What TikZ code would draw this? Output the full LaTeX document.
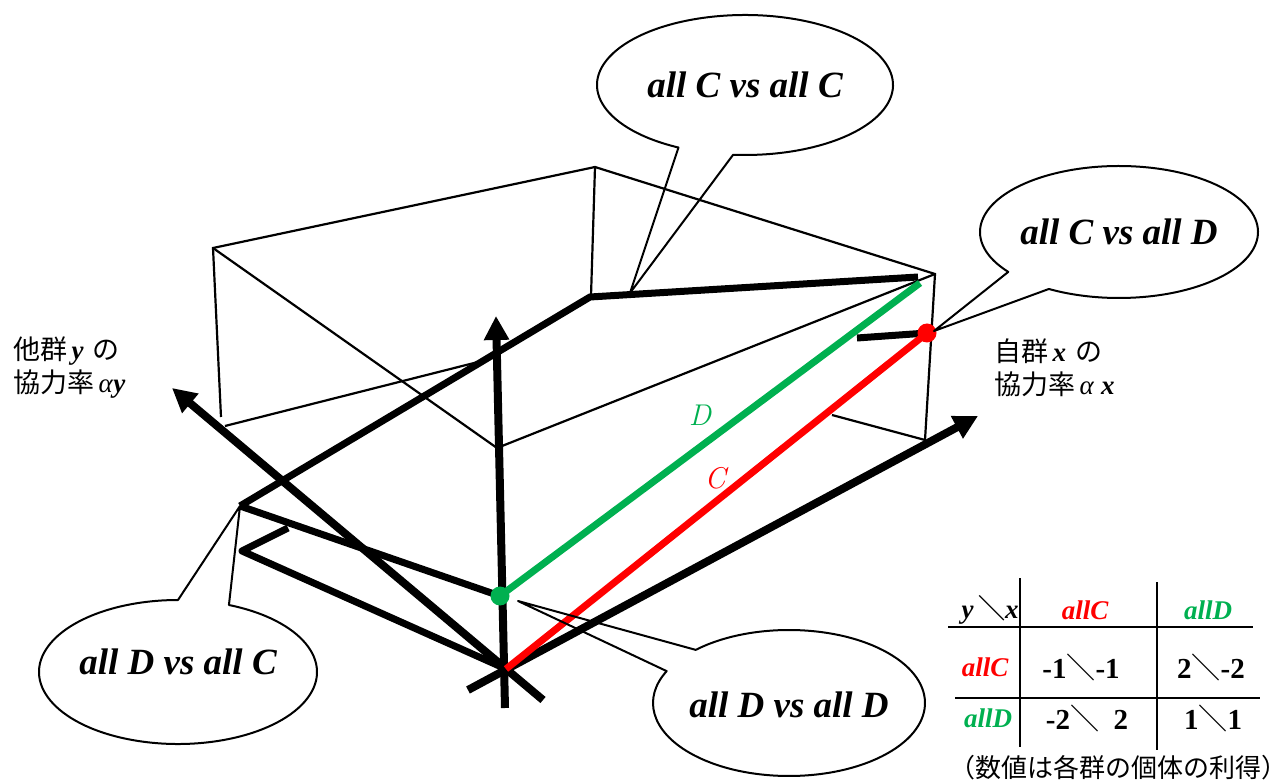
\documentclass[tikz,border=0pt]{standalone}
\usepackage{fontspec}
\setmainfont{Liberation Serif}
\newfontfamily\jfont{Noto Sans CJK JP}
\newfontfamily\lmfont{Latin Modern Roman}
\usetikzlibrary{arrows.meta}
\definecolor{cgreen}{HTML}{00B050}
\definecolor{cred}{HTML}{FF0000}

\begin{document}
\begin{tikzpicture}[x=1pt,y=-1pt,
  frame/.style={line width=2.2pt},
  bar/.style={line width=7pt},
  axis/.style={line width=8pt,-{Triangle[length=24pt,width=24pt]}},
  balloon/.style={draw,line width=2pt,line join=round},
  talk/.style={font=\fontsize{37}{40}\selectfont\bfseries\itshape,inner sep=0pt},
  axlabel/.style={font=\fontsize{27}{33}\selectfont,align=left,anchor=west,inner sep=0pt},
  rule/.style={line width=2.2pt},
  cell/.style={font=\fontsize{29}{30}\selectfont\bfseries,inner sep=0pt},
  head/.style={font=\fontsize{27}{30}\selectfont\bfseries\itshape,inner sep=0pt}]
  \useasboundingbox (0,0) rectangle (1286,783);

  \coordinate (o) at (506,669);
  \coordinate (vb) at (505,708); \coordinate (vt) at (496,316);
  \coordinate (yb) at (543,700); \coordinate (yt) at (172,388);
  \coordinate (xb) at (468,690); \coordinate (xt) at (978,416);
  \coordinate (p) at (240,506); \coordinate (q) at (590,297); \coordinate (r) at (918,277);
  \coordinate (s1) at (288,528); \coordinate (s2) at (242,551);
  \coordinate (g) at (500,596); \coordinate (gt) at (920,283);
  \coordinate (rd) at (927,333); \coordinate (t1) at (857,338);
  \coordinate (a) at (213,248); \coordinate (b) at (595,167); \coordinate (e) at (935,274);
  \coordinate (ab) at (221,417); \coordinate (bb) at (591,296); \coordinate (m) at (497,448);
  \coordinate (eb) at (925,440); \coordinate (n) at (832,415);
  \coordinate (la) at (225,426); \coordinate (lb) at (478,362);

  \draw[frame] (ab) -- (a) -- (b) -- (e) -- (eb) -- (n);
  \draw[frame] (b) -- (bb);
  \draw[frame] (a) -- (m) -- (e);
  \draw[frame] (la) -- (lb);

  \draw[bar,line join=round] (p) -- (q) -- (r);
  \draw[bar] (p) -- (g);
  \draw[bar,line join=round] (s1) -- (s2) -- (o);
  \draw[bar] (t1) -- (rd);
  \draw[axis] (vb) -- (vt);
  \draw[axis] (yb) -- (yt);
  \draw[axis] (xb) -- (xt);
  \draw[bar,cgreen] (g) -- (gt);
  \draw[bar,cred] (o) -- (rd);
  \fill[cgreen] (g) circle (9.5);
  \fill[cred] (rd) circle (9.5);
  \node[font=\fontsize{30}{30}\selectfont\lmfont\itshape,text=cgreen] (dlab) at (700,415) {D};
  \node[font=\fontsize{30}{30}\selectfont\lmfont\itshape,text=cred] (clab) at (715,478) {C};

  \node[axlabel] (ylab) at (13,368) {{\jfont 他群}\,\textbf{\textit{y}}\,\,{\jfont の}\\{\jfont 協力率}\,\textit{α}\textbf{\textit{y}}};
  \node[axlabel] (xlab) at (994,368) {{\jfont 自群}\,\textbf{\textit{x}}\,\,{\jfont の}\\{\jfont 協力率}\,\textit{α}\ \textbf{\textit{x}}};

  \node[talk] (cc) at (745,85) {all C vs all C};
  \coordinate (ccTip) at (630,293);
  \draw[balloon] (cc.center) ++(116.7:148 and 70) arc[start angle=116.7,end angle=454.6,x radius=148,y radius=70] -- (ccTip) -- cycle;
  \node[talk] (cd) at (1119,232) {all C vs all D};
  \coordinate (cdTip) at (934,331);
  \draw[balloon] (cd.center) ++(142.8:139 and 66) arc[start angle=142.8,end angle=480.3,x radius=139,y radius=66] -- (cdTip) -- cycle;
  \node[talk] (dd) at (789,705) {all D vs all D};
  \coordinate (ddTip) at (518,601);
  \draw[balloon] ([yshift=2pt]dd.center) ++(226.7:136 and 73) arc[start angle=226.7,end angle=565.9,x radius=136,y radius=73] -- (ddTip) -- cycle;
  \node[talk] (dc) at (178,662) {all D vs all C};
  \draw[balloon] ([yshift=-10pt]dc.center) ++(291.5:139 and 72) arc[start angle=291.5,end angle=630,x radius=139,y radius=72] -- (p) -- cycle;

  \draw[rule] (1020,578) -- (1020,747);
  \draw[rule] (1157,582) -- (1157,750);
  \draw[rule] (948,627) -- (1253,627);
  \draw[rule] (955,698) -- (1260,698);
  \node[head] (hyx) at (990,610) {y\,{\jfont\bfseries ＼}x};
  \node[head,text=cred] (hc) at (1085,610) {allC};
  \node[head,text=cgreen] (hd) at (1208,610) {allD};
  \node[head,text=cred] (rc) at (985,667) {allC};
  \node[head,text=cgreen] (rdl) at (988,718) {allD};
  \node[cell] (vcc) at (1081,667) {-1{\jfont\mdseries ＼}-1};
  \node[cell] (vcd) at (1211,667) {2{\jfont\mdseries ＼}-2};
  \node[cell] (vdc) at (1087,718) {-2{\jfont\mdseries ＼}\ \ 2};
  \node[cell] (vdd) at (1213,718) {1{\jfont\mdseries ＼}1};
  \node[font=\fontsize{26}{28}\selectfont\jfont,inner sep=0pt] (note) at (1118,768) {（数値は各群の個体の利得）};
\end{tikzpicture}
\end{document}
